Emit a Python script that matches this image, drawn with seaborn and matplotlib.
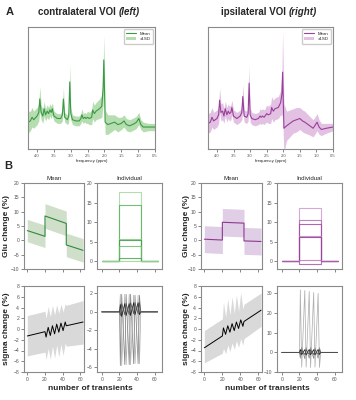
import seaborn as sns
import matplotlib.pyplot as plt
import numpy as np

sns.set_style("ticks")
plt.rcParams['font.family'] = ['Liberation Sans', 'DejaVu Sans']

W, H = 356, 400

# ---- panel A: spectra (ppm grid shared by both VOIs, arbitrary units 0-100)
ppm = [4.27, 4.20, 4.15, 4.10, 4.00, 3.95, 3.92, 3.88, 3.83, 3.79, 3.75, 3.70, 3.66, 3.62,
       3.58, 3.55, 3.50, 3.40, 3.30, 3.25, 3.22, 3.18, 3.10, 3.06, 3.03, 3.00, 2.95, 2.85,
       2.75, 2.70, 2.67, 2.63, 2.58, 2.55, 2.50, 2.45, 2.38, 2.35, 2.30, 2.25, 2.15, 2.08,
       2.04, 2.02, 2.00, 1.98, 1.90, 1.80, 1.70, 1.60, 1.50, 1.42, 1.35, 1.25, 1.10, 1.05,
       0.98, 0.92, 0.85, 0.70, 0.50]
spec_left = [22, 23, 26, 24, 27, 30, 41, 30, 27, 33, 28, 31, 29, 32,
             30, 33, 27, 25, 25, 28, 41, 26, 24, 27, 55, 29, 24, 23,
             23, 25, 28, 25, 26, 25, 26, 25, 26, 32, 29, 31, 33, 35,
             50, 73, 50, 22, 20, 21, 22, 20, 21, 23, 20, 19, 21, 22,
             25, 20, 18, 18, 18]
sd_left = [9, 8, 8, 7, 7, 7, 10, 6, 6, 6, 5, 5, 5, 5,
           5, 5, 4, 4, 4, 5, 9, 4, 4, 5, 14, 5, 4, 4,
           4, 4, 5, 4, 4, 4, 5, 5, 6, 7, 7, 7, 8, 9,
           14, 20, 16, 10, 8, 7, 6, 6, 5, 5, 5, 5, 5, 5,
           5, 4, 4, 3, 3]
spec_right = [21, 22, 26, 23, 25, 28, 40, 30, 31, 27, 33, 28, 31, 29,
              30, 34, 27, 25, 27, 30, 43, 27, 26, 29, 54, 28, 25, 24,
              25, 27, 26, 27, 26, 27, 29, 28, 29, 34, 31, 33, 34, 38,
              45, 63, 40, 17, 19, 21, 23, 24, 25, 23, 22, 20, 17, 19,
              22, 18, 16, 17, 18]
sd_right = [8, 8, 8, 7, 7, 7, 10, 7, 7, 6, 6, 6, 6, 6,
            6, 6, 5, 5, 5, 6, 10, 5, 5, 6, 14, 6, 5, 5,
            5, 6, 6, 6, 6, 6, 7, 7, 8, 9, 9, 9, 9, 10,
            18, 33, 28, 20, 12, 11, 10, 10, 9, 9, 9, 8, 7, 7,
            7, 6, 5, 4, 3]
ppm_ticks = [4.0, 3.5, 3.0, 2.5, 2.0, 1.5, 1.0, 0.5]

# ---- panel B: Glu change (%)
seg_x = [0, 20, 20, 44, 44, 63]
glu_mean_left = [3.4, 1.4, 8.5, 5.9, -1.6, -3.5]
glu_sd_left = [3.9, 3.9, 4.3, 4.3, 4.1, 4.1]
glu_mean_right = [0.4, 0.1, 6.3, 6.0, -0.2, -0.4]
glu_sd_right = [4.7, 4.7, 4.8, 4.8, 4.7, 4.7]
glu_ind_left = [17.8, 14.3, 5.8, 5.5, 4.0, 0.9, 0.0]
glu_ind_right = [13.5, 10.5, 9.5, 6.5, 6.2, 0.3, -0.8]

# ---- panel B: sigma change (%)
sig_x = [0, 20, 21.2, 23.6, 26, 28.4, 30.8, 33.2, 35.6, 38, 40.4, 42.8, 44, 63]
sig_mean_left = [-1.3, -0.5, -1.5, 0.3, -1.2, 0.6, -0.9, 0.9, -0.6, 1.1, -0.3, 1.3, 0.6, 1.3]
sig_up_left = [2.5, 3.3, 2.0, 4.2, 2.3, 4.4, 2.6, 4.5, 2.9, 4.6, 3.2, 4.7, 4.4, 5.3]
sig_lo_left = [-5.0, -4.3, -5.7, -3.6, -5.6, -3.2, -5.4, -3.0, -5.2, -2.8, -4.9, -2.6, -3.2, -2.8]
sig_mean_right = [-3.5, -1.3, 0.2, -1.0, 0.6, -0.6, 1.0, -0.3, 1.3, 0.1, 1.7, 0.5, 1.4, 3.5]
sig_up_right = [-0.3, 1.9, 5.0, 2.2, 5.6, 2.6, 6.0, 2.9, 6.4, 3.3, 6.8, 3.7, 4.6, 6.7]
sig_lo_right = [-6.3, -4.5, -3.6, -4.6, -3.0, -4.2, -2.6, -3.8, -2.2, -3.4, -1.8, -3.0, -1.8, 0.5]

ind_x = [0, 20, 21, 22.5, 26, 27.5, 31, 32.5, 36, 37.5, 41, 42.5, 44, 63]
sig_ind_left = [
    [0, 0, 1.9, -5.8, 1.9, -5.7, 1.9, -5.7, 1.8, -5.6, 1.8, -5.6, 0, 0],
    [0, 0, -5.8, 1.9, -5.7, 1.9, -5.7, 1.9, -5.6, 1.8, -5.6, 1.8, 0, 0],
    [0, 0, 0.8, -0.5, 0.9, -0.4, 0.9, -0.4, 1.0, -0.3, 1.0, -0.3, 0, 0],
    [0, 0, -0.4, 0.9, -0.3, 0.9, -0.3, 1.0, -0.2, 1.0, -0.2, 1.0, 0, 0],
]
sig_ind_right = [
    [0, 0, 31.8, -7.5, 31.5, -7.5, 31.0, -7.7, 30.5, -7.5, 30.0, -7.7, 0, 0],
    [0, 0, -3.0, 2.5, -3.2, 2.4, -3.0, 2.5, -3.1, 2.3, -3.0, 2.4, 0, 0],
    [0, 0, 1.5, -1.2, 1.4, -1.3, 1.5, -1.2, 1.4, -1.2, 1.5, -1.1, 0, 0],
    [0, 0, -1.0, 1.2, -1.1, 1.3, -1.0, 1.2, -1.1, 1.3, -1.0, 1.2, 0, 0],
]

green, green_band = '#3a9a45', '#a9d8a2'
purple, purple_band = '#9a3f9a', '#ddb6dd'
spine_c = '#8a8a8a'

fig = plt.figure(figsize=(W / 100, H / 100), dpi=100)


def add_ax(x0, y0, x1, y1):
    return fig.add_axes([x0 / W, 1 - y1 / H, (x1 - x0) / W, (y1 - y0) / H])


def txt(x, y, s, **kw):
    fig.text(x / W, 1 - y / H, s, ha=kw.pop('ha', 'center'), va=kw.pop('va', 'center'), **kw)


def style(ax, fs=3.6):
    for sp in ax.spines.values():
        sp.set_color(spine_c)
        sp.set_linewidth(0.8)
    ax.tick_params(colors='#555555', labelsize=fs, length=2, width=0.5, pad=1.5)


def spectrum(ax, mean, sd, col, band):
    lo = np.array(mean) - np.array(sd)
    hi = np.array(mean) + np.array(sd)
    ax.fill_between(ppm, lo, hi, color=band, alpha=0.85, lw=0, label='±1SD')
    sns.lineplot(x=ppm, y=mean, ax=ax, color=col, lw=0.8, sort=False, estimator=None, label='Mean')
    ax.set_xlim(4.27, 0.5)
    ax.set_ylim(0, 100)
    ax.set_yticks([])
    ax.set_xticks(ppm_ticks)
    ax.set_xticklabels([f'{t:.1f}' for t in ppm_ticks])
    ax.set_xlabel('frequency (ppm)', fontsize=3.2, labelpad=1)
    style(ax, fs=3.0)
    h, l = ax.get_legend_handles_labels()
    ax.legend(h[::-1], l[::-1], loc='upper right', fontsize=3.2, frameon=True, handlelength=2.2,
              borderpad=0.5, labelspacing=0.4, framealpha=1, edgecolor='#cccccc')


spectrum(add_ax(28, 27, 155, 149), spec_left, sd_left, green, green_band)
spectrum(add_ax(208, 27, 333, 149), spec_right, sd_right, purple, purple_band)


def glu_mean(ax, mean, sd, col, band):
    m = np.array(mean)
    s = np.array(sd)
    ax.fill_between(seg_x, m - s, m + s, color=band, lw=0)
    sns.lineplot(x=seg_x, y=mean, ax=ax, color=col, lw=0.8, sort=False, estimator=None)
    ax.set_xlim(-3.7, 64)
    ax.set_ylim(-10, 20)
    ax.set_yticks([20, 15, 10, 5, 0, -5, -10])
    ax.set_xticks([0, 20, 40, 60])
    ax.set_xticklabels([])
    ax.set_title('Mean', fontsize=4.4, pad=2)
    style(ax)


def glu_ind(ax, vals, cols):
    for v, c in zip(vals, cols):
        sns.lineplot(x=seg_x, y=[0, 0, v, v, 0, 0], ax=ax, color=c, lw=0.8, sort=False,
                     estimator=None, alpha=0.85)
    ax.set_xlim(-5.3, 67.9)
    ax.set_ylim(-2, 20)
    ax.set_yticks([20, 15, 10, 5, 0])
    ax.set_xticks([0, 20, 40, 60])
    ax.set_xticklabels([])
    ax.set_title('Individual', fontsize=4.4, pad=2)
    style(ax)


def sig_mean(ax, mean, up, lo):
    ax.fill_between(sig_x, lo, up, color='#d9d9d9', lw=0)
    sns.lineplot(x=sig_x, y=mean, ax=ax, color='black', lw=0.7, sort=False, estimator=None)
    ax.set_xlim(-3.7, 64)
    ax.set_ylim(-8, 8)
    ax.set_yticks([8, 6, 4, 2, 0, -2, -4, -6, -8])
    ax.set_xticks([0, 20, 40, 60])
    style(ax)


def sig_ind(ax, lines, ylim, yticks):
    cols = ['#b0b0b0', '#8a8a8a', '#202020', '#555555']
    for v, c in zip(lines, cols):
        sns.lineplot(x=ind_x, y=v, ax=ax, color=c, lw=0.55, sort=False, estimator=None)
    ax.set_xlim(-5.3, 67.9)
    ax.set_ylim(*ylim)
    ax.set_yticks(yticks)
    ax.set_xticks([0, 20, 40, 60])
    style(ax)


greens = ['#a6d8a0', '#5fb35f', '#8cc98a', '#3f9a48', '#6dbd6a', '#4fa853', '#9ad596']
purples = ['#cf9acf', '#b56db5', '#a04fa0', '#c486c4', '#8f3a8f', '#b978b9', '#a85aa8']

glu_mean(add_ax(24, 183, 84, 269), glu_mean_left, glu_sd_left, '#2f8a3c', '#d0dfca')
glu_ind(add_ax(97, 183, 162, 269), glu_ind_left, greens)
sig_mean(add_ax(24, 286, 84, 372), sig_mean_left, sig_up_left, sig_lo_left)
sig_ind(add_ax(97, 286, 162, 372), sig_ind_left, (-6.5, 2.8), [2, 0, -2, -4, -6])

glu_mean(add_ax(201, 183, 262, 269), glu_mean_right, glu_sd_right, '#8e3a8e', '#e0cde6')
glu_ind(add_ax(277, 183, 342, 269), glu_ind_right, purples)
sig_mean(add_ax(201, 286, 262, 372), sig_mean_right, sig_up_right, sig_lo_right)
sig_ind(add_ax(277, 286, 342, 372), sig_ind_right, (-9.7, 33.8), [30, 20, 10, 0, -10])

# texts
txt(10, 12, 'A', fontsize=8, fontweight='bold')
txt(8, 166, 'B', fontsize=8, fontweight='bold')
txt(119, 12, 'contralateral VOI ', ha='right', fontsize=7, fontweight='bold')
txt(119, 12, '(left)', ha='left', fontsize=7, fontweight='bold', style='italic')
txt(289, 12, 'ipsilateral VOI ', ha='right', fontsize=7, fontweight='bold')
txt(289, 12, '(right)', ha='left', fontsize=7, fontweight='bold', style='italic')
for x in (7, 186):
    txt(x, 226, 'Glu change (%)', rotation=90, fontsize=6, fontweight='bold')
    txt(x, 329, 'sigma change (%)', rotation=90, fontsize=6, fontweight='bold')
txt(90, 388, 'number of transients', fontsize=6, fontweight='bold')
txt(267, 388, 'number of transients', fontsize=6, fontweight='bold')

fig.savefig('out.png', dpi=100)
